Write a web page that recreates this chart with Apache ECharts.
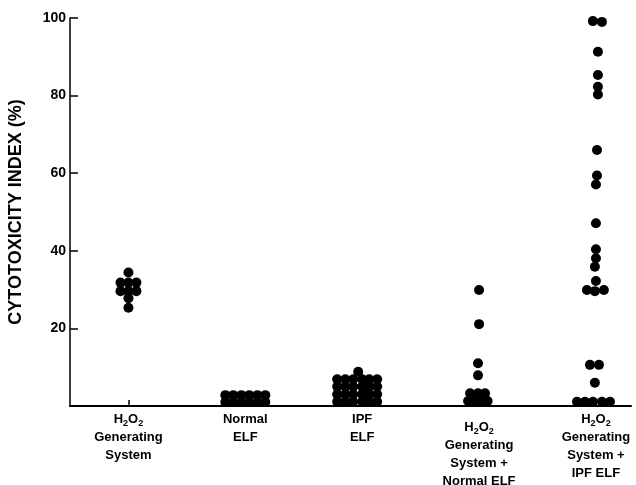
<!DOCTYPE html>
<html>
<head>
<meta charset="utf-8">
<script src="https://cdn.jsdelivr.net/npm/echarts@6/dist/echarts.min.js"></script>
<style>
  html, body { margin: 0; padding: 0; background: #fff; }
  #chart { width: 636px; height: 485px; }
</style>
</head>
<body>
<div id="chart"></div>
<script>
// Category labels (rich text: {s|..} marks subscripts, {g|} a small leading gap)
var categoryLabels = [
  'H{s|2}O{s|2}\nGenerating\nSystem',
  'Normal\nELF',
  'IPF\nELF',
  '{g| }\nH{s|2}O{s|2}\nGenerating\nSystem +\nNormal ELF',
  'H{s|2}O{s|2}\nGenerating\nSystem +\nIPF ELF'
];
var yTickLabels = [20, 40, 60, 80, 100];

// Each point: [horizontal offset from the category centre (category units), cytotoxicity index %]
var h2o2System = [
  [0, 34.4],
  [-0.068, 31.8], [0, 31.8], [0.068, 31.8],
  [-0.068, 29.6], [0, 29.6], [0.068, 29.6],
  [0, 27.8],
  [0, 25.3]
];
var normalELF = [
  [-0.171, 2.8], [-0.103, 2.8], [-0.034, 2.8], [0.034, 2.8], [0.103, 2.8], [0.171, 2.8],
  [-0.171, 1.0], [-0.103, 1.0], [-0.034, 1.0], [0.034, 1.0], [0.103, 1.0], [0.171, 1.0]
];
var ipfELF = [
  [-0.034, 8.8],
  [-0.214, 6.9], [-0.145, 6.9], [-0.077, 6.9], [0, 6.9], [0.06, 6.9], [0.128, 6.9],
  [-0.214, 5.0], [-0.145, 5.0], [-0.077, 5.0], [0, 5.0], [0.06, 5.0], [0.128, 5.0],
  [-0.214, 3.0], [-0.145, 3.0], [-0.077, 3.0], [0, 3.0], [0.06, 3.0], [0.128, 3.0],
  [-0.214, 1.1], [-0.145, 1.1], [-0.077, 1.1], [0, 1.1], [0.06, 1.1], [0.128, 1.1]
];
var h2o2NormalELF = [
  [0, 29.9], [0, 21.1], [-0.009, 11.0], [-0.009, 7.9],
  [-0.077, 3.3], [-0.009, 3.3], [0.051, 3.3],
  [-0.094, 1.3], [-0.038, 1.3], [0.017, 1.3], [0.073, 1.3]
];
var h2o2IpfELF = [
  [-0.026, 99.2], [0.051, 99.0],
  [0.017, 91.3], [0.017, 85.3], [0.017, 82.3], [0.017, 80.3],
  [0.009, 66.0], [0.009, 59.4], [0, 57.1],
  [0, 47.1], [0, 40.4], [0, 38.1], [-0.009, 35.9], [0, 32.2],
  [-0.077, 29.9], [-0.009, 29.6], [0.068, 29.9],
  [-0.051, 10.6], [0.026, 10.6], [-0.009, 6.0],
  [-0.162, 1.1], [-0.094, 1.1], [-0.026, 1.1], [0.051, 1.1], [0.12, 1.1]
];

var groups = [h2o2System, normalELF, ipfELF, h2o2NormalELF, h2o2IpfELF];
var points = [];
groups.forEach(function (g, i) {
  g.forEach(function (p) { points.push([i + 1 + p[0], p[1]]); });
});

var FONT = '"Liberation Sans", Arial, Helvetica, sans-serif';
var chart = echarts.init(document.getElementById('chart'), null, { renderer: 'canvas' });
chart.setOption({
  animation: false,
  backgroundColor: '#ffffff',
  grid: { left: 70, right: 5, top: 18, bottom: 79, containLabel: false, outerBoundsMode: 'none' },
  xAxis: {
    type: 'value',
    min: 0.5,
    max: 5.3,
    splitLine: { show: false },
    axisLine: { show: true, lineStyle: { color: '#000', width: 2 } },
    axisTick: { show: true, inside: true, length: 6, customValues: [1, 2, 3, 4, 5], lineStyle: { color: '#000', width: 1.5 } },
    axisLabel: {
      show: true,
      customValues: [1, 2, 3, 4, 5],
      margin: 4,
      color: '#000',
      fontFamily: FONT,
      fontWeight: 'bold',
      fontSize: 13,
      lineHeight: 18,
      align: 'center',
      hideOverlap: false,
      formatter: function (v) { return categoryLabels[Math.round(v) - 1]; },
      rich: {
        s: { fontFamily: FONT, fontWeight: 'bold', fontSize: 9, color: '#000', verticalAlign: 'bottom', lineHeight: 18 },
        g: { fontSize: 1, lineHeight: 8 }
      }
    }
  },
  yAxis: {
    type: 'value',
    min: 0,
    max: 100,
    interval: 20,
    name: 'CYTOTOXICITY INDEX (%)',
    nameLocation: 'middle',
    nameGap: 45,
    nameTextStyle: { color: '#000', fontFamily: FONT, fontWeight: 'bold', fontSize: 18 },
    splitLine: { show: false },
    axisLine: { show: true, lineStyle: { color: '#000', width: 1.5 } },
    axisTick: { show: true, inside: true, length: 8, customValues: yTickLabels, lineStyle: { color: '#000', width: 1.5 } },
    axisLabel: {
      customValues: yTickLabels,
      margin: 4,
      color: '#000',
      fontFamily: FONT,
      fontWeight: 'bold',
      fontSize: 14
    }
  },
  series: [{
    type: 'scatter',
    data: points,
    symbol: 'circle',
    symbolSize: 10,
    itemStyle: { color: '#000', opacity: 1 },
    emphasis: { disabled: true }
  }]
});
</script>
</body>
</html>
